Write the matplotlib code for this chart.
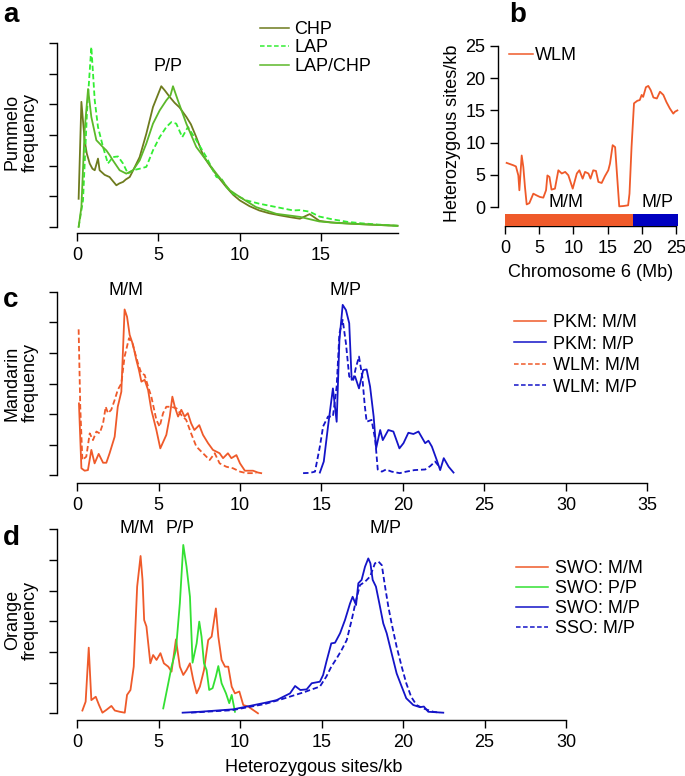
import matplotlib
matplotlib.use('Agg')
import matplotlib.pyplot as plt
from matplotlib.patches import Rectangle

plt.rcParams['font.family'] = ['Liberation Sans', 'DejaVu Sans']

W, H = 685, 776

# colours
ORANGE = '#ef5a2a'
BLUE = '#1414c8'
GREEN = '#33e033'
OLIVE = '#6e7b1e'
MIDGREEN = '#5cb82a'
LAPGREEN = '#33ee33'

# ---- panel a: pummelo ----
chp_x = [0.1, 0.27, 0.47, 0.6, 0.78, 0.95, 1.09, 1.29, 1.39, 1.7, 2.0, 2.2, 2.42, 2.6, 2.83, 3.0, 3.24, 3.5, 3.85,
         4.26, 4.67, 5.0, 5.18, 5.4, 5.7, 6.0, 6.3, 6.72, 7.0, 7.33, 7.75, 8.1, 8.36, 8.8, 9.18, 9.6, 10.0,
         10.6, 11.2, 11.8, 12.46, 13.1, 13.7, 14.3, 14.9, 15.6, 16.5, 17.2, 18.0, 18.8, 19.7]
chp_y = [0.92, 4.08, 2.83, 2.4, 2.07, 1.9, 1.85, 2.23, 1.85, 1.7, 1.63, 1.5, 1.36, 1.42, 1.47, 1.55, 1.63, 1.9, 2.28,
         3.04, 3.91, 4.35, 4.59, 4.45, 4.24, 4.05, 3.9, 3.59, 3.35, 2.93, 2.34, 2.05, 1.85, 1.55, 1.3, 1.05, 0.87,
         0.68, 0.54, 0.45, 0.38, 0.32, 0.27, 0.42, 0.2, 0.15, 0.12, 0.1, 0.08, 0.06, 0.04]
lap_x = [0.1, 0.37, 0.62, 0.88, 1.09, 1.29, 1.6, 1.9, 2.21, 2.52, 2.83, 3.13, 3.44, 3.85, 4.26, 4.67, 5.08, 5.49,
         5.8, 6.1, 6.47, 6.82, 7.33, 7.95, 8.57, 8.87, 9.2, 9.59, 10.4, 11.2, 12.25, 13.28, 13.7, 14.3, 14.9, 15.7,
         16.6, 17.5, 18.5, 19.7]
lap_y = [0.0, 0.87, 3.8, 5.87, 4.13, 3.26, 2.61, 2.07, 2.28, 2.3, 2.07, 1.74, 1.85, 1.9, 1.96, 2.5, 2.93, 3.26,
         3.42, 3.37, 2.93, 3.26, 2.83, 2.28, 1.63, 1.58, 1.3, 1.09, 0.87, 0.76, 0.65, 0.54, 0.55, 0.5, 0.34, 0.25,
         0.17, 0.12, 0.08, 0.04]
lapchp_x = [0.1, 0.27, 0.47, 0.68, 0.88, 1.19, 1.39, 1.6, 1.8, 2.0, 2.21, 2.62, 3.03, 3.44, 3.85, 4.26, 4.67, 5.08,
            5.49, 5.75, 5.9, 6.2, 6.72, 7.33, 7.95, 8.57, 9.39, 10.0, 11.0, 12.25, 13.7, 14.9, 16.0, 17.5, 18.8, 19.7]
lapchp_y = [0.0, 0.65, 3.15, 4.5, 3.59, 2.83, 2.72, 2.6, 2.5, 2.35, 2.17, 1.85, 1.74, 1.85, 2.17, 2.72, 3.37, 3.8,
            4.13, 4.3, 4.59, 4.13, 3.37, 2.61, 2.17, 1.74, 1.2, 0.98, 0.65, 0.43, 0.33, 0.18, 0.13, 0.09, 0.06, 0.04]

# ---- panel b: WLM along chromosome 6 ----
wlm_pos = [0.24, 1.22, 1.6, 1.95, 2.1, 2.44, 2.68, 2.92, 3.17, 3.56, 4.14, 4.63, 5.1, 5.6, 6.0, 6.2, 6.5, 6.8,
           7.3, 7.8, 8.3, 8.8, 9.26, 9.9, 10.5, 10.87, 11.35, 11.7, 12.2, 12.5, 12.9, 13.3, 13.65, 14.13, 14.6,
           15.1, 15.35, 15.74, 16.1, 16.3, 16.7, 17.3, 18.0, 18.2, 18.5, 18.86, 19.35, 19.7, 19.98, 20.2, 20.6,
           20.95, 21.3, 21.7, 22.2, 22.66, 23.15, 23.6, 24.1, 24.6, 24.85, 25.2]
wlm_het = [6.85, 6.48, 6.3, 4.9, 2.6, 8.0, 6.2, 3.1, 0.4, 0.6, 2.07, 1.8, 1.56, 1.45, 2.6, 4.9, 4.67, 2.7,
           2.85, 5.7, 5.2, 5.45, 4.93, 2.85, 5.2, 5.7, 4.4, 5.45, 5.2, 4.4, 5.7, 5.6, 3.9, 3.73, 4.77,
           5.7, 6.74, 9.6, 9.3, 6.2, 0.1, 0.15, 0.26, 2.07, 9.3, 16.1, 16.5, 16.6, 17.4, 17.1, 18.6,
           18.8, 18.15, 17.0, 16.85, 17.9, 17.4, 16.3, 15.3, 14.5, 14.8, 15.0]
mm_end = 18.76
chrom_end = 25.35

# ---- panel c: mandarin ----
pkm_mm_x = [0.12, 0.27, 0.47, 0.67, 0.88, 1.08, 1.33, 1.6, 1.8, 2.0, 2.31, 2.5, 2.72, 2.92, 3.07, 3.23, 3.44, 3.64,
            3.8, 3.95, 4.15, 4.36, 4.56, 4.87, 5.11, 5.48, 5.69, 5.85, 6.0, 6.2, 6.4, 6.6, 6.8, 7.0, 7.2, 7.5,
            7.73, 8.04, 8.34, 8.75, 8.96, 9.26, 9.47, 9.78, 10.0, 10.3, 10.8, 11.1, 11.3]
pkm_mm_y = [2.35, 0.23, 0.15, 0.17, 0.83, 0.39, 0.7, 0.41, 0.41, 0.72, 1.26, 2.24, 2.73, 5.42, 5.18, 4.59, 4.26, 3.77,
            3.44, 3.06, 3.12, 2.79, 2.14, 1.48, 0.88, 1.32, 1.92, 2.57, 2.24, 1.92, 2.14, 1.92, 2.03, 1.7, 1.48, 1.64,
            1.32, 1.05, 0.83, 0.72, 0.56, 0.72, 0.56, 0.66, 0.39, 0.15, 0.15, 0.09, 0.07]
pkm_mp_x = [14.9, 15.14, 15.4, 15.7, 15.93, 16.1, 16.3, 16.5, 16.7, 16.85, 17.06, 17.3, 17.56, 17.77, 17.98, 18.2,
            18.35, 18.6, 18.76, 19.1, 19.41, 19.78, 20.03, 20.33, 20.64, 20.95, 21.36, 21.56, 21.77, 22.07, 22.28,
            22.5, 22.8, 23.1]
pkm_mp_y = [0.09, 0.45, 1.6, 2.84, 1.75, 4.42, 5.57, 5.4, 4.97, 3.12, 3.23, 2.84, 3.44, 3.46, 2.9, 1.92,
            0.88, 1.48, 1.15, 1.48, 1.43, 0.88, 1.05, 1.39, 1.35, 1.43, 1.05, 1.13, 0.94, 0.5, 0.17,
            0.56, 0.28, 0.09]
wlm_mm_x = [0.1, 0.2, 0.33, 0.57, 0.78, 0.98, 1.19, 1.39, 1.6, 1.76, 1.9, 2.1, 2.31, 2.5, 2.72, 2.92, 3.19, 3.4,
            3.54, 3.74, 3.95, 4.15, 4.36, 4.56, 4.87, 5.07, 5.28, 5.48, 5.79, 6.1, 6.4, 6.7, 7.0, 7.32, 7.73, 8.14,
            8.45, 8.75, 9.16, 9.57, 10.0, 10.4, 11.0]
wlm_mm_y = [4.77, 2.24, 0.5, 0.61, 1.37, 1.15, 1.43, 1.37, 1.7, 2.24, 2.03, 2.14, 2.46, 2.79, 3.0, 3.88, 4.48, 4.31,
            4.04, 3.66, 3.33, 3.28, 2.9, 2.57, 1.81, 1.59, 2.03, 2.24, 2.24, 2.19, 1.97, 1.81, 1.37, 0.94, 0.72, 0.5,
            0.72, 0.39, 0.28, 0.23, 0.12, 0.07, 0.07]
wlm_mp_x = [13.87, 14.3, 14.6, 14.9, 15.1, 15.4, 15.7, 15.93, 16.1, 16.3, 16.5, 16.7, 16.95, 17.1, 17.3, 17.5,
            17.65, 17.77, 18.07, 18.3, 18.45, 18.7, 18.96, 19.3, 19.8, 20.2, 20.7, 21.36, 21.67, 21.97, 22.2]
wlm_mp_y = [0.07, 0.08, 0.12, 0.94, 1.6, 1.92, 1.92, 2.9, 4.64, 5.08, 4.31, 3.23, 3.12, 3.5, 3.88, 3.23,
            2.3, 1.75, 1.81, 1.15, 0.19, 0.12, 0.19, 0.12, 0.07, 0.12, 0.17, 0.19, 0.3, 0.45, 0.3]

# ---- panel d: orange ----
swo_mm_x = [0.33, 0.53, 0.72, 0.88, 1.15, 1.35, 1.56, 1.8, 2.11, 2.32, 2.62, 2.93, 3.07, 3.28, 3.48, 3.69, 3.9,
            4.02, 4.12, 4.26, 4.5, 4.67, 4.88, 5.12, 5.33, 5.6, 5.8, 6.07, 6.31, 6.52, 6.72, 6.93, 7.13, 7.34,
            7.54, 7.79, 8.05, 8.26, 8.52, 8.67, 8.87, 9.08, 9.28, 9.49, 9.69, 9.96, 10.2, 10.5, 10.8, 11.1]
swo_mm_y = [0.09, 0.38, 2.14, 0.43, 0.54, 0.27, 0.02, 0.11, 0.24, 0.09, 0.05, 0.02, 0.6, 0.76, 1.52, 4.13, 5.13,
            4.35, 3.04, 2.83, 1.63, 1.9, 1.74, 1.96, 1.63, 1.52, 1.36, 2.41, 1.52, 1.25, 1.41, 1.63, 1.09, 0.65,
            0.87, 1.41, 2.39, 2.5, 3.42, 2.5, 1.74, 1.52, 1.52, 0.87, 0.65, 0.71, 0.27, 0.22, 0.11, 0.0]
swo_pp_x = [5.29, 5.6, 5.8, 6.07, 6.31, 6.52, 6.72, 6.93, 7.09, 7.34, 7.5, 7.64, 7.79, 7.95, 8.11, 8.32, 8.52,
            8.67, 8.87, 9.14, 9.34, 9.49, 9.69]
swo_pp_y = [0.16, 0.98, 1.52, 2.07, 3.59, 5.49, 4.78, 3.8, 1.65, 2.28, 2.99, 2.5, 1.63, 1.41, 0.76, 0.82, 1.2,
            1.54, 0.98, 0.65, 0.33, 0.6, 0.05]
swo_mp_x = [6.48, 7.54, 8.57, 9.59, 10.6, 11.6, 12.25, 12.66, 13.07, 13.38, 13.7, 14.09, 14.4, 14.9, 15.1, 15.3,
            15.6, 15.83, 16.14, 16.44, 16.75, 16.91, 17.12, 17.26, 17.46, 17.67, 17.87, 18.0, 18.14, 18.34, 18.55,
            18.79, 19.0, 19.3, 19.61, 19.92, 20.2, 20.63, 21.04, 21.28, 21.55, 22.47]
swo_mp_y = [0.02, 0.05, 0.09, 0.13, 0.24, 0.35, 0.43, 0.54, 0.65, 0.89, 0.76, 0.78, 0.98, 1.03, 1.25, 1.68,
            2.28, 2.3, 2.61, 3.04, 3.58, 3.8, 3.53, 4.24, 4.35, 4.78, 5.05, 4.89, 4.35, 4.13, 3.58,
            2.93, 2.61, 1.96, 1.3, 0.87, 0.49, 0.27, 0.2, 0.22, 0.05, 0.02]
sso_mp_x = [7.0, 8.5, 9.5, 10.5, 11.5, 12.5, 13.4, 14.0, 14.3, 14.9, 15.3, 15.6, 15.93, 16.24, 16.55, 16.85,
            17.12, 17.36, 17.67, 17.98, 18.28, 18.49, 18.7, 18.9, 19.1, 19.3, 19.61, 19.92, 20.2, 20.5, 20.83,
            21.24, 21.85, 22.27]
sso_mp_y = [0.02, 0.07, 0.1, 0.2, 0.3, 0.45, 0.6, 0.7, 0.76, 0.87, 1.2, 1.52, 1.79, 2.07, 2.39, 3.04,
            3.69, 4.18, 4.29, 4.46, 4.89, 4.95, 4.83, 4.13, 3.48, 2.93, 2.17, 1.52, 0.98, 0.54, 0.27,
            0.16, 0.05, 0.02]

DASH = (0, (3, 1.6))
LW = 1.3
FS = 13

fig = plt.figure(figsize=(W / 100, H / 100), dpi=100)


def panel(left, top, right, bottom, x0, xs, y0, ys):
    """axes placed by pixel box; x0/y0 = pixel of data zero, xs/ys = pixels per unit"""
    ax = fig.add_axes([left / W, 1 - bottom / H, (right - left) / W, (bottom - top) / H])
    ax.set_xlim((left - x0) / xs, (right - x0) / xs)
    ax.set_ylim((y0 - bottom) / ys, (y0 - top) / ys)
    for s in ['top', 'right']:
        ax.spines[s].set_visible(False)
    for s in ['left', 'bottom']:
        ax.spines[s].set_linewidth(1.0)
    ax.tick_params(length=6, width=1.0, labelsize=FS, pad=4)
    return ax


def px(x, y):
    return (x / W, 1 - y / H)


def add_legend(ax, x, y, **kw):
    leg = ax.legend(loc='upper left', bbox_to_anchor=px(x, y), bbox_transform=fig.transFigure, frameon=False,
                    fontsize=FS, borderaxespad=0, borderpad=0, **kw)
    for line in leg.get_lines():
        line.set_linewidth(1.1)
    return leg


# panel a
ax = panel(57, 40, 400, 233, 77, 16.27, 227, 30.67)
ax.plot(chp_x, chp_y, color=OLIVE, lw=LW, label='CHP')
ax.plot(lap_x, lap_y, color=LAPGREEN, lw=LW, ls=DASH, label='LAP')
ax.plot(lapchp_x, lapchp_y, color=MIDGREEN, lw=LW, label='LAP/CHP')
ax.set_xticks([0, 5, 10, 15])
ax.set_yticks(range(7))
ax.set_yticklabels([])
ax.spines['left'].set_bounds(0, 6)
ax.spines['bottom'].set_bounds(0, 19.7)
ax.text(5.6, 4.95, 'P/P', ha='center', va='bottom', fontsize=FS)
add_legend(ax, 260, 21, handlelength=1.6, handletextpad=0.3, labelspacing=0.08)

# panel b
ax = panel(498, 40, 684, 226, 505, 6.84, 207, 6.44)
ax.plot(wlm_pos, wlm_het, color=ORANGE, lw=LW, label='WLM')
ax.add_patch(Rectangle((0, -2.97), mm_end, 1.9, color=ORANGE, lw=0, zorder=3, clip_on=False))
ax.add_patch(Rectangle((mm_end, -2.97), chrom_end - mm_end, 1.9, color='#0000c0', lw=0, zorder=3, clip_on=False))
ax.set_xticks([0, 5, 10, 15, 20, 25])
ax.set_yticks([0, 5, 10, 15, 20, 25])
ax.spines['left'].set_bounds(0, 25)
ax.spines['bottom'].set_bounds(0, 25)
ax.tick_params(axis='y', pad=3)
ax.text(8.9, -0.6, 'M/M', ha='center', va='bottom', fontsize=FS)
ax.text(22.3, -0.6, 'M/P', ha='center', va='bottom', fontsize=FS)
ax.set_xlabel('Chromosome 6 (Mb)', fontsize=FS, labelpad=5)
ax.set_ylabel('Heterozygous sites/kb', fontsize=FS, labelpad=3)
add_legend(ax, 509, 47, handlelength=1.35, handletextpad=0.1)

# panel c
ax = panel(57, 288, 652, 482.7, 77, 16.3, 475.3, 30.6)
ax.plot(pkm_mm_x, pkm_mm_y, color=ORANGE, lw=LW, label='PKM: M/M')
ax.plot(pkm_mp_x, pkm_mp_y, color=BLUE, lw=LW, label='PKM: M/P')
ax.plot(wlm_mm_x, wlm_mm_y, color=ORANGE, lw=LW, ls=DASH, label='WLM: M/M')
ax.plot(wlm_mp_x, wlm_mp_y, color=BLUE, lw=LW, ls=DASH, label='WLM: M/P')
ax.set_xticks(range(0, 40, 5))
ax.set_yticks(range(7))
ax.set_yticklabels([])
ax.spines['left'].set_bounds(0, 6)
ax.spines['bottom'].set_bounds(0, 35)
ax.text(3.0, 5.75, 'M/M', ha='center', va='bottom', fontsize=FS)
ax.text(16.5, 5.75, 'M/P', ha='center', va='bottom', fontsize=FS)
add_legend(ax, 514, 314, handlelength=1.75, handletextpad=0.4, labelspacing=0.25)

# panel d
ax = panel(57, 526, 570, 720, 77, 16.3, 713.3, 30.67)
ax.plot(swo_mm_x, swo_mm_y, color=ORANGE, lw=LW, label='SWO: M/M')
ax.plot(swo_pp_x, swo_pp_y, color=GREEN, lw=LW, label='SWO: P/P')
ax.plot(swo_mp_x, swo_mp_y, color=BLUE, lw=LW, label='SWO: M/P')
ax.plot(sso_mp_x, sso_mp_y, color=BLUE, lw=LW, ls=DASH, label='SSO: M/P')
ax.set_xticks(range(0, 35, 5))
ax.set_yticks(range(7))
ax.set_yticklabels([])
ax.spines['left'].set_bounds(0, 6)
ax.spines['bottom'].set_bounds(0, 30)
ax.text(3.7, 5.75, 'M/M', ha='center', va='bottom', fontsize=FS)
ax.text(6.3, 5.75, 'P/P', ha='center', va='bottom', fontsize=FS)
ax.text(18.9, 5.75, 'M/P', ha='center', va='bottom', fontsize=FS)
ax.set_xlabel('Heterozygous sites/kb', fontsize=FS, labelpad=6)
add_legend(ax, 516, 560, handlelength=1.75, handletextpad=0.4, labelspacing=0.17)

# y labels and panel letters
for lab, y in [('Pummelo\nfrequency', 132), ('Mandarin\nfrequency', 383), ('Orange\nfrequency', 620)]:
    fig.text(*px(21, y), lab, rotation=90, ha='center', va='center', fontsize=FS, linespacing=1.05)
for let, x, y in [('a', 11, 15), ('b', 518, 15), ('c', 11, 300), ('d', 11, 538)]:
    fig.text(*px(x, y), let, ha='center', va='center', fontsize=20, fontweight='bold')

fig.savefig('out.png', dpi=100)
